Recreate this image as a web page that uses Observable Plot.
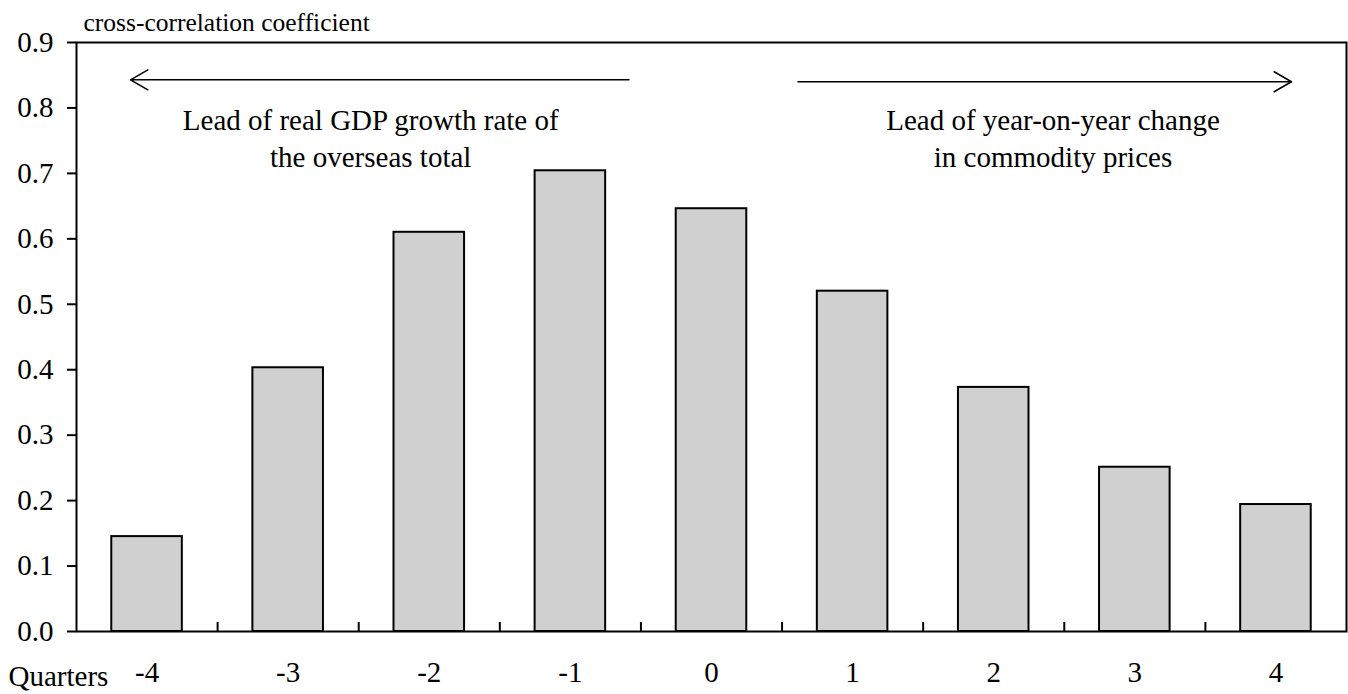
<!DOCTYPE html>
<html>
<head>
<meta charset="utf-8">
<script src="https://cdn.jsdelivr.net/npm/d3@7"></script>
<script src="https://cdn.jsdelivr.net/npm/@observablehq/plot@0.6"></script>
<style>
  html, body { margin: 0; padding: 0; background: #fff; }
  #chart { width: 1348px; height: 694px; }
</style>
</head>
<body>
<div id="chart"></div>
<script>
// ---- data ----
const quarters = [-4, -3, -2, -1, 0, 1, 2, 3, 4];
const coefficients = [0.145, 0.403, 0.610, 0.704, 0.646, 0.520, 0.373, 0.251, 0.194];
const yTicks = [0, 0.1, 0.2, 0.3, 0.4, 0.5, 0.6, 0.7, 0.8, 0.9];
const yTitle = "cross-correlation coefficient";
const xTitle = "Quarters";
const leftNote = "Lead of real GDP growth rate of\nthe overseas total";
const rightNote = "Lead of year-on-year change\nin commodity prices";

const rows = quarters.map((q, i) => ({q, v: coefficients[i]}));
const boundaries = quarters.slice(1).map(q => q - 0.5);

const chart = Plot.plot({
  width: 1348,
  height: 694,
  marginLeft: 76,
  marginRight: 2,
  marginTop: 42,
  marginBottom: 63,
  style: {fontFamily: "'Liberation Serif', 'Times New Roman', serif", fontSize: "29px", background: "#fff", color: "#000"},
  x: {type: "linear", domain: [-4.5, 4.5]},
  y: {domain: [0, 0.9]},
  marks: [
    Plot.rectY(rows, {x1: d => d.q - 0.25, x2: d => d.q + 0.25, y1: 0, y2: "v", fill: "#d0d0d0", stroke: "#000", strokeWidth: 2}),
    Plot.frame({stroke: "#000", strokeWidth: 2}),
    Plot.ruleX(boundaries, {x: d => d, y1: 0, y2: 0, insetTop: -9, stroke: "#000", strokeWidth: 2}),
    Plot.axisY({ticks: yTicks, tickFormat: d3.format(".1f"), tickSize: 9, tickPadding: 14, label: null, strokeWidth: 2, fontSize: 29}),
    Plot.axisX({ticks: quarters, tickFormat: d => String(d), tickSize: 0, tickPadding: 30, label: null, fontSize: 29}),
    Plot.text([yTitle], {frameAnchor: "top-left", lineAnchor: "middle", text: d => d, dx: 7, dy: -20, fontSize: 25.5, textAnchor: "start"}),
    Plot.text([xTitle], {frameAnchor: "bottom-left", lineAnchor: "middle", text: d => d, dx: -68, dy: 45, fontSize: 29, textAnchor: "start"}),
    Plot.arrow([0], {x1: -0.585, x2: -4.117, y1: 0.843, y2: 0.843, stroke: "#000", strokeWidth: 1.5, headLength: 20, headAngle: 60}),
    Plot.arrow([0], {x1: 0.613, x2: 4.11, y1: 0.840, y2: 0.840, stroke: "#000", strokeWidth: 1.5, headLength: 20, headAngle: 60}),
    Plot.text([leftNote], {x: -2.415, y: 0.756, text: d => d, fontSize: 29, lineHeight: 1.28}),
    Plot.text([rightNote], {x: 2.42, y: 0.756, text: d => d, fontSize: 29, lineHeight: 1.28})
  ]
});
document.getElementById("chart").appendChild(chart);
</script>
</body>
</html>
